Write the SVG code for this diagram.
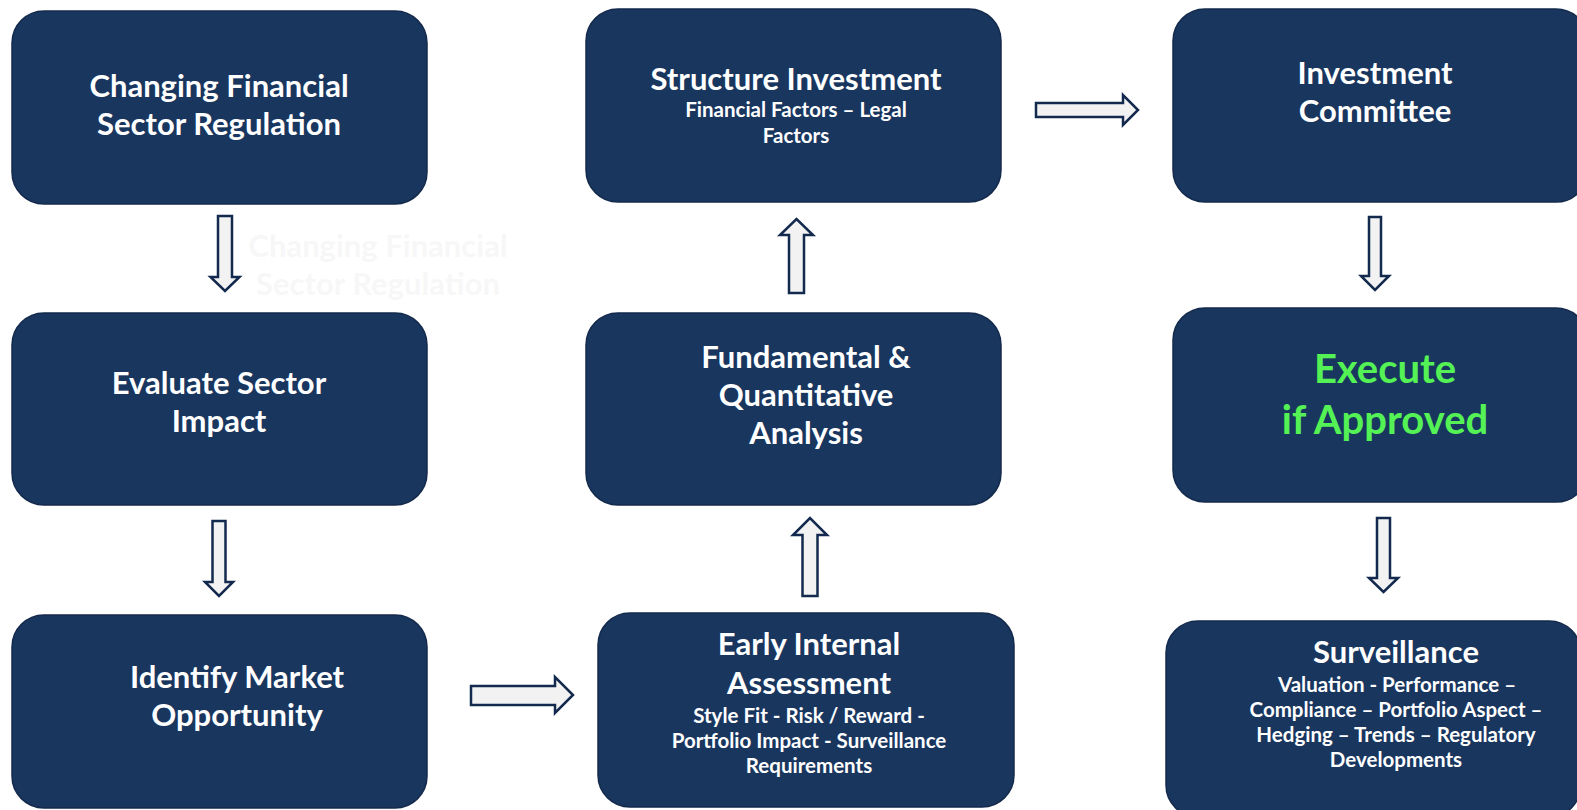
<svg xmlns="http://www.w3.org/2000/svg" width="1577" height="810" viewBox="0 0 1577 810">
<style>
.box{fill:#19365f;stroke:#142a4c;stroke-width:1.5}
.t{font-family:Lato,"Open Sans","Liberation Sans",sans-serif;font-weight:700;fill:#ffffff;text-anchor:middle}
.h{font-size:31px}
.s{font-size:20.5px}
.g{font-size:40px;fill:#55f255}
.ghost{font-family:Lato,"Open Sans","Liberation Sans",sans-serif;font-weight:700;font-size:31px;fill:#f7f7f7;text-anchor:middle}
.arr{fill:#f2f2f2;stroke:#132a4e;stroke-width:2.5;stroke-linejoin:miter}
</style>
<rect width="1577" height="810" fill="#ffffff"/>
<text class="ghost" x="378" y="257">Changing Financial</text>
<text class="ghost" x="378" y="295">Sector Regulation</text>
<g id="connectors">
<path class="arr" d="M218,216 H232 V277 H239.5 L225,291 L210.5,277 H218 Z"/>
<path class="arr" d="M212.5,521 H225.5 V582 H233 L219,596 L205,582 H212.5 Z"/>
<path class="arr" d="M471,686 H555 V677 L573,695 L555,713 V705 H471 Z"/>
<path class="arr" d="M802.5,596 V535 H793 L810,518 L827,535 H817.5 V596 Z"/>
<path class="arr" d="M789,293 V235 H780 L796.5,219 L813,235 H804 V293 Z"/>
<path class="arr" d="M1036,103 H1123 V95 L1138,110 L1123,125 V117 H1036 Z"/>
<path class="arr" d="M1369,217 H1381 V276 H1389 L1375,290 L1361,276 H1369 Z"/>
<path class="arr" d="M1377,518 H1390 V578 H1398 L1383.5,592 L1369,578 H1377 Z"/>
</g>
<g id="n1"><rect class="box" x="12" y="11" width="415" height="193" rx="32"/>
<text class="t h" x="219" y="97">Changing Financial</text>
<text class="t h" x="219" y="135">Sector Regulation</text></g>
<g id="n2"><rect class="box" x="12" y="313" width="415" height="192" rx="32"/>
<text class="t h" x="219" y="394">Evaluate Sector</text>
<text class="t h" x="219" y="432">Impact</text></g>
<g id="n3"><rect class="box" x="12" y="615" width="415" height="193" rx="32"/>
<text class="t h" x="237" y="688">Identify Market</text>
<text class="t h" x="237" y="726">Opportunity</text></g>
<g id="n4"><rect class="box" x="586" y="9" width="415" height="193" rx="32"/>
<text class="t h" x="796" y="90">Structure Investment</text>
<text class="t s" x="796" y="117">Financial Factors – Legal</text>
<text class="t s" x="796" y="143">Factors</text></g>
<g id="n5"><rect class="box" x="586" y="313" width="415" height="192" rx="32"/>
<text class="t h" x="806" y="368">Fundamental &amp;</text>
<text class="t h" x="806" y="406">Quantitative</text>
<text class="t h" x="806" y="444">Analysis</text></g>
<g id="n6"><rect class="box" x="598" y="613" width="416" height="194" rx="32"/>
<text class="t h" x="809" y="655">Early Internal</text>
<text class="t h" x="809" y="694">Assessment</text>
<text class="t s" x="809" y="723">Style Fit - Risk / Reward -</text>
<text class="t s" x="809" y="748">Portfolio Impact - Surveillance</text>
<text class="t s" x="809" y="773">Requirements</text></g>
<g id="n7"><rect class="box" x="1173" y="9" width="415" height="193" rx="32"/>
<text class="t h" x="1375" y="84">Investment</text>
<text class="t h" x="1375" y="122">Committee</text></g>
<g id="n8"><rect class="box" x="1173" y="308" width="415" height="194" rx="32"/>
<text class="t g" x="1385" y="383">Execute</text>
<text class="t g" x="1385" y="434">if Approved</text></g>
<g id="n9"><rect class="box" x="1166" y="621" width="415" height="196" rx="32"/>
<text class="t h" x="1396" y="663">Surveillance</text>
<text class="t s" x="1397" y="692">Valuation - Performance –</text>
<text class="t s" x="1396" y="717">Compliance – Portfolio Aspect –</text>
<text class="t s" x="1396" y="742">Hedging – Trends – Regulatory</text>
<text class="t s" x="1396" y="767">Developments</text></g>
</svg>
